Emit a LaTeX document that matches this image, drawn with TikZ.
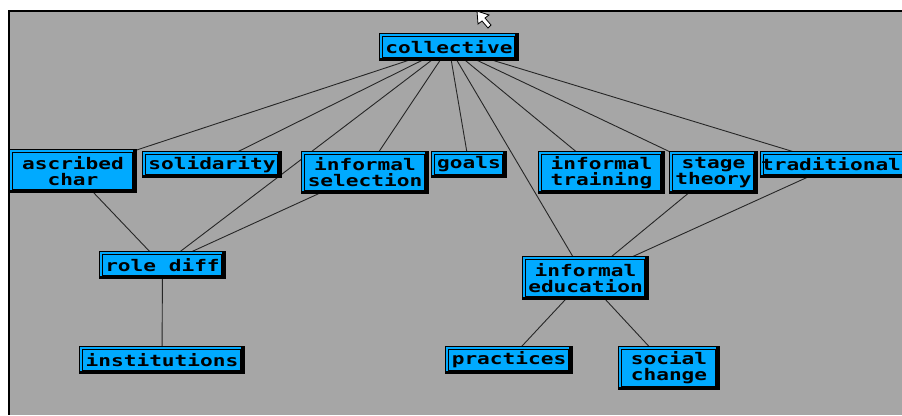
\documentclass[tikz,border=0pt]{standalone}
\usepackage{fontspec}
\usetikzlibrary{backgrounds}
\newfontfamily\pixfont[FakeStretch=1.32]{DejaVu Sans Mono Bold}
\definecolor{boxblue}{RGB}{0,170,255}
\definecolor{panelgray}{RGB}{166,166,166}

\tikzset{
  cbox/.style={draw=black, fill=boxblue, line width=1pt, inner sep=0pt,
    anchor=north west, align=center,
    font=\pixfont\fontsize{16}{16}\selectfont,
    path picture={
      \fill[black] ([xshift=-4pt]path picture bounding box.north east)
        rectangle (path picture bounding box.south east);
      \fill[black] ([yshift=3pt]path picture bounding box.south west)
        rectangle (path picture bounding box.south east);
      \draw[line width=1pt]
        ([shift={(3pt,-3pt)}]path picture bounding box.north west)
        rectangle ([shift={(-4pt,3pt)}]path picture bounding box.south east);
    }},
  link/.style={draw=black!85, line width=0.9pt},
}

\begin{document}
\begin{tikzpicture}[x=1pt, y=-1pt]
  \useasboundingbox (0,0) rectangle (902,415);
  \clip (0,0) rectangle (902,415);

  % boxes
  \node[cbox, minimum width=139pt, minimum height=27pt] (col)   at (379,33)  {collective};
  \node[cbox, minimum width=127pt, minimum height=43pt] (asc)   at (9,149)   {ascribed\\char};
  \node[cbox, minimum width=139pt, minimum height=26pt] (sol)   at (142,151) {solidarity};
  \node[cbox, minimum width=127pt, minimum height=42pt] (isel)  at (301,151) {informal\\selection};
  \node[cbox, minimum width=75pt,  minimum height=26pt] (goals) at (431,151) {goals};
  \node[cbox, minimum width=126pt, minimum height=42pt] (itr)   at (538,151) {informal\\training};
  \node[cbox, minimum width=88pt,  minimum height=42pt] (stage) at (669,151) {stage\\theory};
  \node[cbox, minimum width=150pt, minimum height=26pt] (trad)  at (760,151) {traditional\hspace{9pt}};
  \node[cbox, minimum width=126pt, minimum height=27pt] (role)  at (99,251)  {role diff};
  \node[cbox, minimum width=165pt, minimum height=27pt] (inst)  at (79,346)  {institutions};
  \node[cbox, minimum width=126pt, minimum height=43pt] (iedu)  at (522,256) {informal\\education};
  \node[cbox, minimum width=127pt, minimum height=27pt] (prac)  at (445,346) {practices};
  \node[cbox, minimum width=101pt, minimum height=43pt] (soc)   at (618,346) {social\\change};

  \begin{scope}[on background layer]
    % window panel
    \fill[white] (0,0) rectangle (902,415);
    \fill[panelgray] (9,11) rectangle (902,415);
    \fill[black] (8,10) rectangle (902,12);
    \fill[black] (8,10) rectangle (10,415);

    % connectors, centre to centre, hidden under the boxes
    \foreach \t in {asc,sol,role,isel,goals,iedu,itr,stage,trad}
      \draw[link] (col.center) -- (\t.center);
    \draw[link] (asc.center) -- (role.center);
    \draw[link] (isel.center) -- (role.center);
    \draw[link] (role.center) -- (inst.center);
    \draw[link] (stage.center) -- (iedu.center);
    \draw[link] (trad.center) -- (iedu.center);
    \draw[link] (iedu.center) -- (prac.center);
    \draw[link] (iedu.center) -- (soc.center);
  \end{scope}

  % mouse pointer
  \draw[fill=white, line width=0.8pt, line join=miter]
    (477,11) -- (478,24) -- (482,21) -- (488,28) -- (491,25) -- (485,18) -- (489,15) -- cycle;
\end{tikzpicture}
\end{document}
